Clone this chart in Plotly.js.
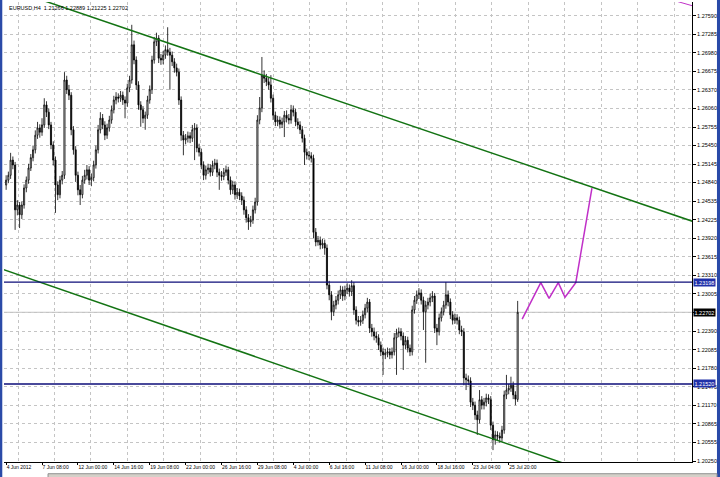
<!DOCTYPE html>
<html><head><meta charset="utf-8">
<script src="https://cdn.plot.ly/plotly-3.0.1.min.js"></script>
<style>html,body{margin:0;padding:0;background:#fff}#chart{width:720px;height:477px}</style>
</head><body><div id="chart"></div><script>
const symbolTitle = "EURUSD,H4  1.21266 1.22889 1.21225 1.22702";

const openP = [
1.2480,1.2488,1.2496,1.2521,1.2513,1.2439,1.2447,1.2431,1.2447,1.2475,
1.2488,1.2508,1.2525,1.2538,1.2562,1.2574,1.2567,1.2579,1.2612,1.2600,
1.2579,1.2546,1.2521,1.2480,1.2464,1.2488,1.2496,1.2653,1.2637,1.2628,
1.2571,1.2538,1.2496,1.2472,1.2464,1.2488,1.2496,1.2505,1.2488,1.2492,
1.2513,1.2538,1.2571,1.2590,1.2579,1.2562,1.2574,1.2587,1.2604,1.2620,
1.2625,1.2623,1.2628,1.2620,1.2615,1.2640,1.2653,1.2711,1.2686,1.2645,
1.2612,1.2604,1.2590,1.2595,1.2620,1.2637,1.2686,1.2716,1.2722,1.2689,
1.2686,1.2694,1.2703,1.2699,1.2694,1.2683,1.2673,1.2666,1.2620,1.2562,
1.2554,1.2557,1.2561,1.2557,1.2571,1.2574,1.2541,1.2534,1.2513,1.2496,
1.2505,1.2508,1.2501,1.2513,1.2516,1.2501,1.2496,1.2494,1.2501,1.2505,
1.2488,1.2472,1.2480,1.2464,1.2468,1.2462,1.2455,1.2439,1.2426,1.2419,
1.2422,1.2439,1.2452,1.2587,1.2607,1.2661,1.2656,1.2650,1.2645,1.2623,
1.2595,1.2584,1.2587,1.2580,1.2584,1.2595,1.2590,1.2587,1.2604,1.2600,
1.2584,1.2579,1.2571,1.2557,1.2534,1.2529,1.2528,1.2524,1.2402,1.2386,
1.2389,1.2381,1.2384,1.2376,1.2315,1.2299,1.2271,1.2282,1.2290,1.2299,
1.2307,1.2297,1.2307,1.2310,1.2304,1.2314,1.2274,1.2257,1.2254,1.2257,
1.2266,1.2277,1.2287,1.2244,1.2238,1.2231,1.2228,1.2216,1.2205,1.2200,
1.2203,1.2205,1.2200,1.2205,1.2228,1.2236,1.2238,1.2231,1.2216,1.2224,
1.2211,1.2205,1.2274,1.2290,1.2299,1.2302,1.2290,1.2271,1.2282,1.2287,
1.2294,1.2297,1.2244,1.2238,1.2261,1.2271,1.2282,1.2299,1.2287,1.2266,
1.2257,1.2261,1.2257,1.2241,1.2238,1.2162,1.2159,1.2157,1.2122,1.2117,
1.2101,1.2093,1.2126,1.2117,1.2122,1.2129,1.2126,1.2084,1.2060,1.2068,
1.2066,1.2063,1.2076,1.2134,1.2142,1.2145,1.2150,1.2134,1.21266];

const highP = [
1.2496,1.2502,1.2533,1.2527,1.2518,1.2455,1.2452,1.2453,1.2481,1.2494,
1.2515,1.2531,1.2545,1.2570,1.2584,1.2580,1.2590,1.2623,1.2618,1.2606,
1.2584,1.2552,1.2527,1.2486,1.2495,1.2503,1.2666,1.2660,1.2645,1.2633,
1.2577,1.2544,1.2502,1.2480,1.2495,1.2505,1.2513,1.2511,1.2499,1.2520,
1.2545,1.2579,1.2600,1.2597,1.2585,1.2581,1.2594,1.2611,1.2627,1.2633,
1.2631,1.2635,1.2634,1.2626,1.2647,1.2660,1.2744,1.2718,1.2692,1.2651,
1.2618,1.2610,1.2601,1.2627,1.2644,1.2693,1.2724,1.2731,1.2727,1.2696,
1.2701,1.2710,1.2740,1.2706,1.2700,1.2689,1.2680,1.2672,1.2626,1.2569,
1.2564,1.2568,1.2567,1.2579,1.2582,1.2580,1.2548,1.2540,1.2519,1.2512,
1.2515,1.2514,1.2520,1.2523,1.2522,1.2507,1.2503,1.2508,1.2512,1.2510,
1.2494,1.2487,1.2486,1.2475,1.2474,1.2468,1.2461,1.2445,1.2432,1.2429,
1.2446,1.2459,1.2595,1.2625,1.2691,1.2669,1.2663,1.2657,1.2661,1.2629,
1.2601,1.2594,1.2593,1.2591,1.2602,1.2603,1.2597,1.2612,1.2611,1.2606,
1.2590,1.2585,1.2577,1.2563,1.2540,1.2536,1.2534,1.2530,1.2409,1.2396,
1.2395,1.2391,1.2390,1.2382,1.2322,1.2305,1.2289,1.2297,1.2306,1.2314,
1.2313,1.2314,1.2318,1.2316,1.2323,1.2320,1.2280,1.2264,1.2264,1.2273,
1.2284,1.2294,1.2292,1.2251,1.2245,1.2238,1.2234,1.2222,1.2212,1.2210,
1.2212,1.2211,1.2212,1.2236,1.2243,1.2245,1.2244,1.2237,1.2231,1.2230,
1.2217,1.2281,1.2297,1.2306,1.2310,1.2308,1.2296,1.2289,1.2294,1.2301,
1.2305,1.2302,1.2251,1.2268,1.2278,1.2289,1.2320,1.2306,1.2293,1.2272,
1.2268,1.2267,1.2263,1.2248,1.2244,1.2169,1.2166,1.2163,1.2129,1.2123,
1.2108,1.2142,1.2132,1.2129,1.2136,1.2135,1.2132,1.2090,1.2075,1.2074,
1.2072,1.2083,1.2141,1.2167,1.2152,1.2164,1.2156,1.2140,1.22889];

const lowP = [
1.2472,1.2483,1.2490,1.2506,1.2406,1.2430,1.2409,1.2424,1.2441,1.2468,
1.2482,1.2503,1.2519,1.2532,1.2556,1.2558,1.2561,1.2574,1.2592,1.2572,
1.2539,1.2512,1.2434,1.2455,1.2458,1.2481,1.2490,1.2630,1.2620,1.2562,
1.2530,1.2485,1.2463,1.2447,1.2458,1.2482,1.2489,1.2480,1.2478,1.2486,
1.2507,1.2532,1.2565,1.2572,1.2554,1.2556,1.2568,1.2581,1.2598,1.2613,
1.2616,1.2617,1.2612,1.2590,1.2609,1.2633,1.2647,1.2679,1.2637,1.2604,
1.2576,1.2582,1.2571,1.2589,1.2614,1.2630,1.2680,1.2709,1.2681,1.2678,
1.2679,1.2688,1.2693,1.2637,1.2676,1.2665,1.2659,1.2612,1.2553,1.2529,
1.2547,1.2550,1.2549,1.2551,1.2521,1.2534,1.2527,1.2506,1.2488,1.2489,
1.2498,1.2494,1.2495,1.2506,1.2493,1.2472,1.2487,1.2488,1.2495,1.2481,
1.2464,1.2465,1.2456,1.2457,1.2455,1.2447,1.2431,1.2418,1.2406,1.2411,
1.2416,1.2433,1.2446,1.2580,1.2600,1.2648,1.2643,1.2637,1.2616,1.2587,
1.2577,1.2577,1.2573,1.2574,1.2559,1.2583,1.2580,1.2581,1.2593,1.2577,
1.2572,1.2564,1.2550,1.2513,1.2522,1.2521,1.2517,1.2392,1.2379,1.2380,
1.2374,1.2375,1.2365,1.2308,1.2290,1.2257,1.2264,1.2275,1.2283,1.2292,
1.2289,1.2290,1.2300,1.2296,1.2297,1.2266,1.2250,1.2247,1.2248,1.2251,
1.2260,1.2270,1.2236,1.2230,1.2224,1.2220,1.2208,1.2198,1.2167,1.2193,
1.2196,1.2193,1.2194,1.2199,1.2167,1.2229,1.2224,1.2175,1.2209,1.2204,
1.2198,1.2199,1.2268,1.2284,1.2292,1.2283,1.2241,1.2187,1.2275,1.2280,
1.2287,1.2236,1.2216,1.2232,1.2255,1.2265,1.2276,1.2280,1.2259,1.2250,
1.2251,1.2250,1.2234,1.2231,1.2150,1.2142,1.2150,1.2114,1.2109,1.2093,
1.2068,1.2087,1.2110,1.2110,1.2115,1.2119,1.2076,1.2043,1.2052,1.2059,
1.2055,1.2057,1.2070,1.2127,1.2135,1.2139,1.2127,1.2117,1.21225];

const closeP = [
1.2488,1.2496,1.2521,1.2513,1.2439,1.2447,1.2431,1.2447,1.2475,1.2488,
1.2508,1.2525,1.2538,1.2562,1.2574,1.2567,1.2579,1.2612,1.2600,1.2579,
1.2546,1.2521,1.2480,1.2464,1.2488,1.2496,1.2653,1.2637,1.2628,1.2571,
1.2538,1.2496,1.2472,1.2464,1.2488,1.2496,1.2505,1.2488,1.2492,1.2513,
1.2538,1.2571,1.2590,1.2579,1.2562,1.2574,1.2587,1.2604,1.2620,1.2625,
1.2623,1.2628,1.2620,1.2615,1.2640,1.2653,1.2711,1.2686,1.2645,1.2612,
1.2604,1.2590,1.2595,1.2620,1.2637,1.2686,1.2716,1.2722,1.2689,1.2686,
1.2694,1.2703,1.2699,1.2694,1.2683,1.2673,1.2666,1.2620,1.2562,1.2554,
1.2557,1.2561,1.2557,1.2571,1.2574,1.2541,1.2534,1.2513,1.2496,1.2505,
1.2508,1.2501,1.2513,1.2516,1.2501,1.2496,1.2494,1.2501,1.2505,1.2488,
1.2472,1.2480,1.2464,1.2468,1.2462,1.2455,1.2439,1.2426,1.2419,1.2422,
1.2439,1.2452,1.2587,1.2607,1.2661,1.2656,1.2650,1.2645,1.2623,1.2595,
1.2584,1.2587,1.2580,1.2584,1.2595,1.2590,1.2587,1.2604,1.2600,1.2584,
1.2579,1.2571,1.2557,1.2534,1.2529,1.2528,1.2524,1.2402,1.2386,1.2389,
1.2381,1.2384,1.2376,1.2315,1.2299,1.2271,1.2282,1.2290,1.2299,1.2307,
1.2297,1.2307,1.2310,1.2304,1.2314,1.2274,1.2257,1.2254,1.2257,1.2266,
1.2277,1.2287,1.2244,1.2238,1.2231,1.2228,1.2216,1.2205,1.2200,1.2203,
1.2205,1.2200,1.2205,1.2228,1.2236,1.2238,1.2231,1.2216,1.2224,1.2211,
1.2205,1.2274,1.2290,1.2299,1.2302,1.2290,1.2271,1.2282,1.2287,1.2294,
1.2297,1.2244,1.2238,1.2261,1.2271,1.2282,1.2299,1.2287,1.2266,1.2257,
1.2261,1.2257,1.2241,1.2238,1.2162,1.2159,1.2157,1.2122,1.2117,1.2101,
1.2093,1.2126,1.2117,1.2122,1.2129,1.2126,1.2084,1.2060,1.2068,1.2066,
1.2063,1.2076,1.2134,1.2142,1.2145,1.2150,1.2134,1.2127,1.22702];

const dateTickBars = [0,16,32,48,64,80,96,112,128,144,160,176,192,208,224];
const dateTickLabels = ["4 Jun 2012","7 Jun 08:00","12 Jun 00:00","14 Jun 16:00","19 Jun 08:00",
  "22 Jun 00:00","26 Jun 16:00","29 Jun 08:00","4 Jul 00:00","6 Jul 16:00",
  "11 Jul 08:00","16 Jul 00:00","18 Jul 16:00","23 Jul 04:00","25 Jul 20:00"];
const priceTicks = [1.20250,1.20555,1.20865,1.21170,1.21475,1.21780,1.22085,1.22390,1.22700,
  1.23005,1.23310,1.23615,1.23920,1.24225,1.24535,1.24840,1.25145,1.25450,1.25755,1.26060,
  1.26370,1.26675,1.26980,1.27285,1.27590];

const channelUpperX = [15, 306];
const channelUpperY = [1.2786, 1.2420];
const channelLowerX = [-3, 262];
const channelLowerY = [1.2343, 1.2004];
const forecastX = [230, 238.3, 242, 246.1, 249.1, 253.9, 261.1];
const forecastY = [1.2259, 1.2319, 1.2293, 1.2319, 1.2295, 1.2319, 1.2475];
const forecast2X = [296.8, 306.2];
const forecast2Y = [1.2785, 1.2775];
const levelPrices = [1.23198, 1.21520];
const lastPrice = 1.22702;

const barIdx = closeP.map((_, i) => i);
const FONT = "Liberation Sans, Arial, sans-serif";
const XR = [-0.95, 305.7];
const gridBars = [5.3,21.6,37.8,54.1,70.3,86.5,102.8,119.0,135.3,151.5,167.8,184.0,200.2,216.5,232.7,249.0,265.2,281.5,297.7];
// the tick label hidden behind the last-price box in the reference
const priceTickText = priceTicks.map(v => Math.abs(v - lastPrice) < 0.0002 ? '' : v.toFixed(5));

const traces = [
  {type:'candlestick', x:barIdx, open:openP, high:highP, low:lowP, close:closeP,
   increasing:{line:{color:'#000000', width:0.8}, fillcolor:'#ffffff'},
   decreasing:{line:{color:'#000000', width:0.8}, fillcolor:'#000000'},
   whiskerwidth:0, hoverinfo:'none', showlegend:false},
  {type:'scatter', mode:'lines', x:channelUpperX, y:channelUpperY, xaxis:'x2',
   line:{color:'#137313', width:1.5}, hoverinfo:'none', showlegend:false},
  {type:'scatter', mode:'lines', x:channelLowerX, y:channelLowerY, xaxis:'x2',
   line:{color:'#137313', width:1.5}, hoverinfo:'none', showlegend:false},
  {type:'scatter', mode:'lines', x:forecastX, y:forecastY, xaxis:'x2',
   line:{color:'#c030c8', width:1.5}, hoverinfo:'none', showlegend:false},
  {type:'scatter', mode:'lines', x:forecast2X, y:forecast2Y, xaxis:'x2',
   line:{color:'#c030c8', width:1}, hoverinfo:'none', showlegend:false}
];

const shapes = [
  {type:'line', xref:'paper', x0:0, x1:1, yref:'y', y0:lastPrice, y1:lastPrice, line:{color:'#c0c0c0', width:1}, layer:'below'},
  ...levelPrices.map(v => ({type:'line', xref:'paper', x0:0, x1:1, yref:'y', y0:v, y1:v, line:{color:'#0c0c78', width:1.3}})),
  {type:'rect', xref:'paper', yref:'paper', x0:-0.0058, x1:-0.0025, y0:-0.033, y1:1.005, fillcolor:'#2a4aa8', line:{width:0}},
  {type:'rect', xref:'paper', yref:'paper', x0:1.0363, x1:1.041, y0:-0.033, y1:1.005, fillcolor:'#2a4aa8', line:{width:0}},
  {type:'rect', xref:'paper', yref:'paper', x0:0.064, x1:1.0363, y0:-0.034, y1:-0.0255, fillcolor:'#d4d0c8', line:{color:'#909090', width:1}}
];

const annotations = [
  {xref:'paper', yref:'paper', x:0, y:1, xanchor:'left', yanchor:'top', xshift:3, yshift:-1,
   text:symbolTitle, showarrow:false, font:{family:FONT, size:5.5, color:'#000'}},
  ...levelPrices.map(v => ({xref:'paper', yref:'y', x:1, y:v, xanchor:'left', yanchor:'middle', xshift:1,
   text:v.toFixed(5), showarrow:false, bgcolor:'#2030a8', borderpad:0.5,
   font:{family:FONT, size:5.5, color:'#ffffff'}})),
  {xref:'paper', yref:'y', x:1, y:lastPrice, xanchor:'left', yanchor:'middle', xshift:1,
   text:lastPrice.toFixed(5), showarrow:false, bgcolor:'#000000', borderpad:0.5,
   font:{family:FONT, size:5.5, color:'#ffffff'}}
];

const layout = {
  width:720, height:477,
  margin:{l:4, r:28, t:2, b:15, pad:0},
  paper_bgcolor:'#ffffff', plot_bgcolor:'#ffffff',
  font:{family:FONT, size:5.5, color:'#000'},
  showlegend:false,
  xaxis:{range:XR, type:'linear', tickvals:gridBars, showticklabels:false, ticks:'',
    showgrid:true, gridcolor:'#c4c4c4', griddash:'3px,3px', gridwidth:1,
    showline:true, linecolor:'#000', linewidth:1, zeroline:false,
    rangeslider:{visible:false}, fixedrange:true},
  xaxis2:{range:XR, type:'linear', overlaying:'x', anchor:'y', side:'bottom',
    tickvals:dateTickBars, ticktext:dateTickLabels, ticklabelposition:'outside right', tickangle:0,
    ticks:'outside', ticklen:2, tickcolor:'#000', tickfont:{family:FONT, size:5, color:'#000'},
    showgrid:false, showline:false, zeroline:false, fixedrange:true, automargin:false},
  yaxis:{range:[1.20234, 1.27816], side:'right', tickvals:priceTicks, ticktext:priceTickText,
    ticks:'outside', ticklen:3, tickcolor:'#000', tickfont:{family:FONT, size:5.5, color:'#000'},
    showgrid:true, gridcolor:'#c4c4c4', griddash:'3px,3px', gridwidth:1,
    showline:true, linecolor:'#000', linewidth:1, zeroline:false, fixedrange:true, automargin:false},
  shapes:shapes,
  annotations:annotations
};

Plotly.newPlot('chart', traces, layout, {staticPlot:true, displayModeBar:false});
</script></body></html>
